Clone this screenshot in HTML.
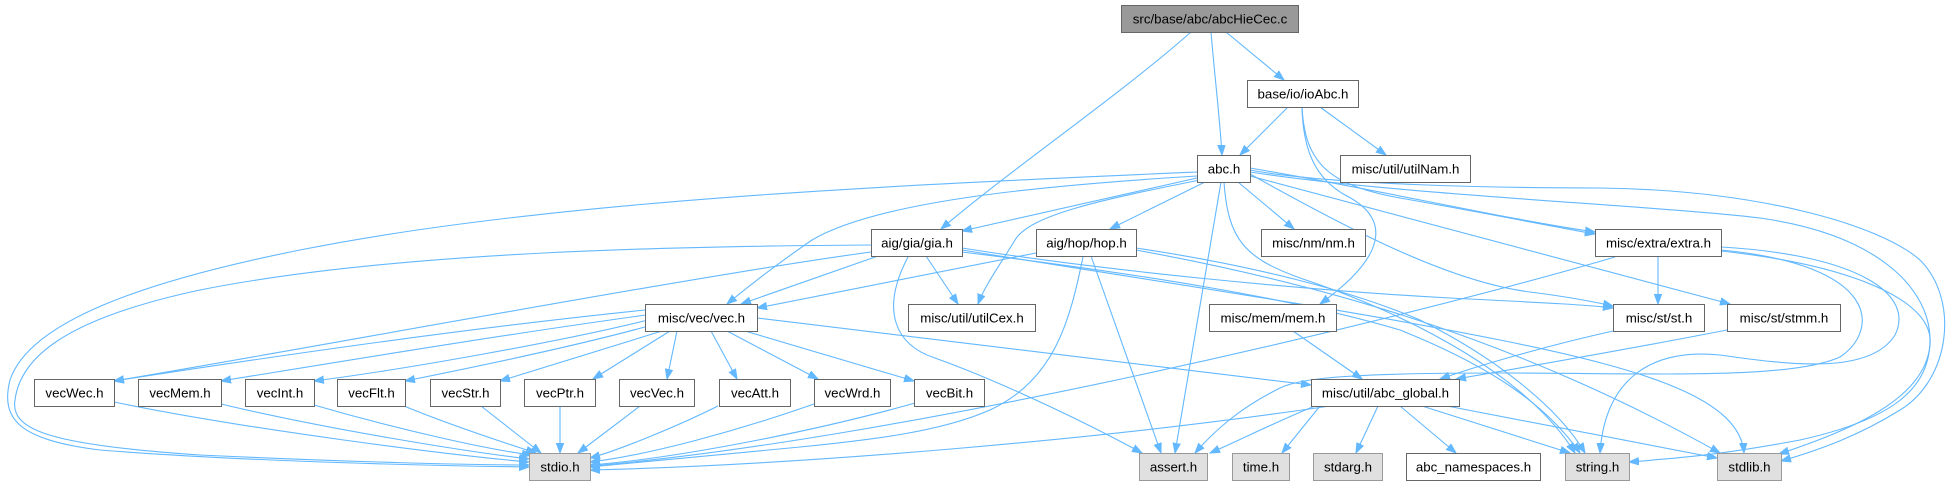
<!DOCTYPE html>
<html><head><meta charset="utf-8"><style>
html,body{margin:0;padding:0;background:#fff;}
svg{display:block;}
text{font-family:"Liberation Sans",Arial,sans-serif;font-size:13.3px;fill:#000;text-anchor:middle;}
.e{fill:none;stroke:#63b8ff;stroke-width:1.1;marker-end:url(#a);}
.n{fill:#fff;stroke:#666;stroke-width:1;}
.g{fill:#e0e0e0;stroke:#999;stroke-width:1;}
.r{fill:#999;stroke:#666;stroke-width:1;}
</style></head><body>
<svg width="1954" height="485" viewBox="0 0 1954 485" xmlns="http://www.w3.org/2000/svg">
<defs>
<marker id="a" markerWidth="11" markerHeight="9" refX="10" refY="4" orient="auto" markerUnits="userSpaceOnUse"><path d="M0,0.3 L10,4 L0,7.7z" fill="#63b8ff" stroke="#63b8ff" stroke-width="1"/></marker>
</defs>
<!-- edges -->
<path class="e" d="M1191,32 C1120,95 1010,170 941,229"/>
<path class="e" d="M1211,32 C1215,80 1220,120 1222,155"/>
<path class="e" d="M1226,32 L1284,80"/>
<path class="e" d="M1288,107 L1240,155"/>
<path class="e" d="M1320,107 L1386,155"/>
<path class="e" d="M1302,107 C1303,150 1315,178 1345,195 C1385,215 1395,250 1320,304"/>
<path class="e" d="M1302,107 C1305,165 1330,185 1400,198 C1480,212 1550,226 1595,234"/>
<path class="e" d="M1250,168 C1380,190 1510,220 1595,232"/>
<path class="e" d="M1238,182 L1294,229"/>
<path class="e" d="M1205,182 L1110,229"/>
<path class="e" d="M1197,178 L962,231"/>
<path class="e" d="M1197,176 C1050,185 880,200 812,240 C780,262 750,285 727,304"/>
<path class="e" d="M1200,180 C1100,200 1030,215 1015,240 C1000,265 985,285 978,304"/>
<path class="e" d="M1197,172 C900,185 550,200 300,250 C150,280 30,320 10,380 C0,420 20,440 100,450 C250,462 450,466 529,467"/>
<path class="e" d="M1221,182 L1175,453"/>
<path class="e" d="M1224,182 C1228,240 1245,258 1300,278 C1420,318 1530,380 1575,453"/>
<path class="e" d="M1250,174 C1350,230 1450,282 1530,292 C1570,297 1595,302 1613,306"/>
<path class="e" d="M1250,176 L1730,304"/>
<path class="e" d="M1250,170 C1330,185 1500,188 1600,188 C1760,190 1880,225 1920,260 C1960,300 1950,380 1900,410 C1860,435 1820,450 1781,461"/>
<path class="e" d="M1250,172 C1400,195 1650,205 1760,218 C1880,235 1930,290 1930,340 C1930,390 1890,420 1800,440 C1720,455 1680,458 1629,462"/>
<!-- gia -->
<path class="e" d="M878,256 L741,304"/>
<path class="e" d="M926,256 L958,304"/>
<path class="e" d="M908,257 C880,310 895,345 935,358 C1010,385 1100,430 1142,453"/>
<path class="e" d="M871,245 C700,246 400,250 200,290 C60,320 20,360 15,400 C10,430 50,445 200,455 C350,462 470,465 529,465"/>
<path class="e" d="M871,252 C700,275 300,350 114,381"/>
<path class="e" d="M962,248 C1100,270 1300,290 1450,298 C1550,303 1590,305 1613,308"/>
<path class="e" d="M962,250 C1150,280 1350,310 1500,340 C1650,370 1740,400 1744,453"/>
<path class="e" d="M962,252 C1150,275 1300,300 1400,330 C1500,370 1550,410 1580,453"/>
<!-- hop -->
<path class="e" d="M1036,253 L757,308"/>
<path class="e" d="M1091,256 L1161,453"/>
<path class="e" d="M1083,257 C1070,320 1055,380 990,410 C940,432 870,440 800,447 C700,457 620,464 590,467"/>
<path class="e" d="M1136,248 C1250,265 1350,290 1420,320 C1500,360 1560,410 1585,453"/>
<path class="e" d="M1136,250 C1300,280 1500,330 1720,453"/>
<!-- extra -->
<path class="e" d="M1658,256 L1658,304"/>
<path class="e" d="M1615,257 C1400,320 900,440 590,466"/>
<path class="e" d="M1721,247 C1860,255 1915,295 1895,335 C1870,375 1790,365 1720,355 C1650,348 1605,380 1600,453"/>
<path class="e" d="M1721,250 C1880,265 1880,330 1840,357 C1790,380 1650,373 1500,373 C1350,373 1300,378 1280,388 C1240,408 1215,430 1195,453"/>
<path class="e" d="M1721,251 C1850,265 1935,300 1930,345 C1925,400 1850,430 1779,454"/>
<!-- vec -->
<path class="e" d="M645,310 C450,330 250,360 114,381"/>
<path class="e" d="M646,315 C500,335 320,365 221,381"/>
<path class="e" d="M648,320 C560,342 400,370 314,381"/>
<path class="e" d="M652,325 C570,348 450,372 405,381"/>
<path class="e" d="M662,331 L500,381"/>
<path class="e" d="M670,331 L593,379"/>
<path class="e" d="M677,331 L667,379"/>
<path class="e" d="M711,331 L737,379"/>
<path class="e" d="M727,331 L818,379"/>
<path class="e" d="M745,331 L914,381"/>
<path class="e" d="M757,318 L1311,385"/>
<!-- vecX -> stdio -->
<path class="e" d="M114,402 C250,430 450,455 529,462"/>
<path class="e" d="M221,404 C330,430 470,452 529,459"/>
<path class="e" d="M314,405 C400,430 490,450 532,455"/>
<path class="e" d="M404,406 C450,425 505,443 536,453"/>
<path class="e" d="M481,406 L541,453"/>
<path class="e" d="M560,406 L560,453"/>
<path class="e" d="M640,406 L578,453"/>
<path class="e" d="M718,406 C680,425 620,450 590,458"/>
<path class="e" d="M814,404 C740,430 650,455 590,462"/>
<path class="e" d="M915,403 C820,430 680,458 590,465"/>
<path class="e" d="M1330,406 C1100,440 800,465 590,470"/>
<!-- abc_global -->
<path class="e" d="M1315,406 C1280,420 1240,440 1210,453"/>
<path class="e" d="M1320,406 L1282,453"/>
<path class="e" d="M1378,406 L1356,453"/>
<path class="e" d="M1400,406 L1456,453"/>
<path class="e" d="M1422,406 L1570,453"/>
<path class="e" d="M1447,406 L1717,458"/>
<path class="e" d="M1293,331 L1362,379"/>
<path class="e" d="M1613,331 C1550,345 1480,365 1440,379"/>
<path class="e" d="M1727,330 C1650,345 1520,368 1456,379"/>

<!-- nodes -->
<rect class="r" x="1121.5" y="5.5" width="177" height="27"/><text x="1210" y="23.5">src/base/abc/abcHieCec.c</text>
<rect class="n" x="1247.5" y="80.5" width="111" height="27"/><text x="1303" y="98.5">base/io/ioAbc.h</text>
<rect class="n" x="1197.5" y="155.5" width="53" height="27"/><text x="1224" y="173.5">abc.h</text>
<rect class="n" x="1340.5" y="155.5" width="130" height="27"/><text x="1405.5" y="173.5">misc/util/utilNam.h</text>
<rect class="n" x="871.5" y="229.5" width="91" height="27"/><text x="917" y="247.5">aig/gia/gia.h</text>
<rect class="n" x="1036.5" y="229.5" width="100" height="27"/><text x="1086.5" y="247.5">aig/hop/hop.h</text>
<rect class="n" x="1261.5" y="229.5" width="104" height="27"/><text x="1313.5" y="247.5">misc/nm/nm.h</text>
<rect class="n" x="1595.5" y="229.5" width="126" height="27"/><text x="1658.5" y="247.5">misc/extra/extra.h</text>
<rect class="n" x="645.5" y="304.5" width="112" height="27"/><text x="701.5" y="322.5">misc/vec/vec.h</text>
<rect class="n" x="908.5" y="304.5" width="127" height="27"/><text x="972" y="322.5">misc/util/utilCex.h</text>
<rect class="n" x="1209.5" y="304.5" width="127" height="27"/><text x="1273" y="322.5">misc/mem/mem.h</text>
<rect class="n" x="1613.5" y="304.5" width="91" height="27"/><text x="1659" y="322.5">misc/st/st.h</text>
<rect class="n" x="1727.5" y="304.5" width="113" height="27"/><text x="1784" y="322.5">misc/st/stmm.h</text>
<rect class="n" x="34.5" y="379.5" width="80" height="27"/><text x="74.5" y="397.5">vecWec.h</text>
<rect class="n" x="138.5" y="379.5" width="83" height="27"/><text x="180" y="397.5">vecMem.h</text>
<rect class="n" x="245.5" y="379.5" width="69" height="27"/><text x="280" y="397.5">vecInt.h</text>
<rect class="n" x="337.5" y="379.5" width="68" height="27"/><text x="371.5" y="397.5">vecFlt.h</text>
<rect class="n" x="430.5" y="379.5" width="70" height="27"/><text x="465.5" y="397.5">vecStr.h</text>
<rect class="n" x="524.5" y="379.5" width="71" height="27"/><text x="560" y="397.5">vecPtr.h</text>
<rect class="n" x="619.5" y="379.5" width="75" height="27"/><text x="657" y="397.5">vecVec.h</text>
<rect class="n" x="719.5" y="379.5" width="71" height="27"/><text x="755" y="397.5">vecAtt.h</text>
<rect class="n" x="814.5" y="379.5" width="76" height="27"/><text x="852.5" y="397.5">vecWrd.h</text>
<rect class="n" x="914.5" y="379.5" width="70" height="27"/><text x="949.5" y="397.5">vecBit.h</text>
<rect class="n" x="1311.5" y="379.5" width="148" height="27"/><text x="1385.5" y="397.5">misc/util/abc_global.h</text>
<rect class="g" x="529.5" y="453.5" width="61" height="27"/><text x="560" y="471.5">stdio.h</text>
<rect class="g" x="1139.5" y="453.5" width="68" height="27"/><text x="1173.5" y="471.5">assert.h</text>
<rect class="g" x="1232.5" y="453.5" width="57" height="27"/><text x="1261" y="471.5">time.h</text>
<rect class="g" x="1313.5" y="453.5" width="69" height="27"/><text x="1348" y="471.5">stdarg.h</text>
<rect class="n" x="1406.5" y="453.5" width="134" height="27"/><text x="1473.5" y="471.5">abc_namespaces.h</text>
<rect class="g" x="1565.5" y="453.5" width="64" height="27"/><text x="1597.5" y="471.5">string.h</text>
<rect class="g" x="1717.5" y="453.5" width="64" height="27"/><text x="1749.5" y="471.5">stdlib.h</text>
</svg>
</body></html>
